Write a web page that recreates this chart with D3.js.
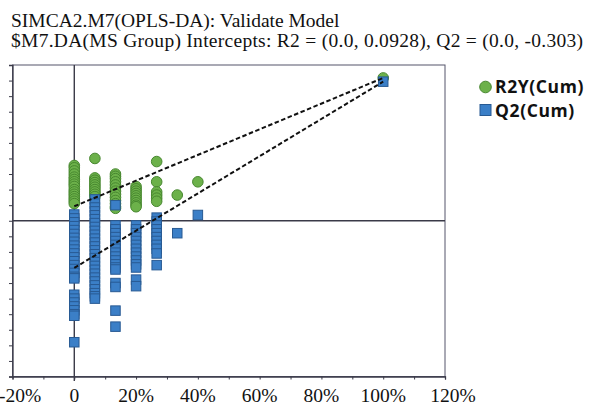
<!DOCTYPE html>
<html>
<head>
<meta charset="utf-8">
<script src="https://cdn.jsdelivr.net/npm/d3@7"></script>
<style>
  html, body { margin: 0; padding: 0; background: #fff; }
  svg { display: block; }
</style>
</head>
<body>
<svg id="chart" width="591" height="406"></svg>
<script>
// ---------- data ----------
const titleLines = [
  "SIMCA2.M7(OPLS-DA): Validate Model",
  "$M7.DA(MS Group) Intercepts: R2 = (0.0, 0.0928), Q2 = (0.0, -0.303)"
];
// correlation between permuted and original Y (x positions of columns)
const permCorr = [0, 0.0667, 0.1333, 0.2, 0.2667, 0.3333, 0.4, 1.0];
// R2Y(Cum) values per column
const r2Values = [
  [0.355, 0.34, 0.32, 0.30, 0.28, 0.265, 0.25, 0.235, 0.22, 0.20, 0.185, 0.17, 0.155, 0.14, 0.125, 0.11],
  [0.40, 0.275, 0.26, 0.245, 0.23, 0.215, 0.20, 0.185, 0.17, 0.155],
  [0.30, 0.285, 0.27, 0.25, 0.23, 0.21, 0.19, 0.17, 0.15, 0.13, 0.11, 0.09, 0.08],
  [0.22, 0.205, 0.19, 0.175, 0.16, 0.145, 0.13, 0.115, 0.10, 0.09],
  [0.38, 0.25, 0.185, 0.165, 0.145, 0.125],
  [0.165],
  [0.25],
  [0.917]
];
// Q2(Cum) values per column
const q2Values = [
  [0.04, 0.015, -0.01, -0.035, -0.06, -0.085, -0.11, -0.135, -0.16, -0.185, -0.21, -0.235, -0.26, -0.285, -0.31, -0.335, -0.36, -0.37,
   -0.475, -0.50, -0.525, -0.55, -0.575, -0.60, -0.61, -0.78],
  [0.137, 0.11, 0.085, 0.06, 0.035, 0.01, -0.015, -0.04, -0.065, -0.09, -0.115, -0.14, -0.165, -0.19, -0.215, -0.24, -0.265,
   -0.29, -0.315, -0.34, -0.365, -0.39, -0.415, -0.44, -0.465, -0.485, -0.50],
  [0.10, -0.03, -0.055, -0.08, -0.105, -0.13, -0.155, -0.18, -0.205, -0.23, -0.255, -0.28, -0.30, -0.313, -0.40, -0.425, -0.577, -0.68],
  [-0.03, -0.055, -0.08, -0.105, -0.13, -0.155, -0.18, -0.205, -0.23, -0.255, -0.28, -0.30, -0.378, -0.42],
  [0.02, -0.005, -0.03, -0.055, -0.08, -0.105, -0.13, -0.155, -0.18, -0.21, -0.285],
  [-0.08],
  [0.037],
  [0.893]
];
const r2Intercept = 0.0928;
const q2Intercept = -0.303;
const xTickValues = [-0.2, 0, 0.2, 0.4, 0.6, 0.8, 1.0, 1.2];
const xTickLabels = ["-20%", "0", "20%", "40%", "60%", "80%", "100%", "120%"];
const legendLabels = ["R2Y(Cum)", "Q2(Cum)"];

// ---------- layout ----------
const svg = d3.select("#chart");
const L = 12.5, R = 445, T = 65, B = 376.5;
const x = d3.scaleLinear().domain([-0.2, 1.2]).range([L, R]);
const y = d3.scaleLinear().domain([-1, 1]).range([B, T]);

const green = "#6cb14a", greenStroke = "#47872f";
const blue = "#3b7fc7", blueStroke = "#285a93";
const axisColor = "#3a3a48";
const serif = "'Liberation Serif', 'Times New Roman', serif";

// title
const tg = svg.append("g");
tg.append("text")
  .attr("x", 11).attr("y", 27)
  .attr("font-family", serif).attr("font-size", 19.5).attr("fill", "#111")
  .text(titleLines[0]);
tg.append("text")
  .attr("x", 11).attr("y", 47)
  .attr("font-family", serif).attr("font-size", 19.5).attr("fill", "#111")
  .attr("textLength", 572).attr("lengthAdjust", "spacing")
  .text(titleLines[1]);

// frame
svg.append("rect")
  .attr("x", L).attr("y", T).attr("width", R - L).attr("height", B - T)
  .attr("fill", "none").attr("stroke", "#55556a").attr("stroke-width", 1);

// y axis (ticks only, no labels)
const yAxis = d3.axisLeft(y).tickValues(d3.range(-10, 11).map(v => v / 10)).tickSize(3.5).tickFormat("");
const gy = svg.append("g").attr("transform", `translate(${L},0)`).call(yAxis);
gy.select(".domain").attr("stroke", axisColor).attr("stroke-width", 1.3);
gy.selectAll(".tick line").attr("stroke", axisColor).attr("stroke-width", 1);

// x axis
const xAxis = d3.axisBottom(x).tickValues(d3.range(-2, 13).map(v => v / 10)).tickSize(3).tickFormat("");
const gx = svg.append("g").attr("transform", `translate(0,${B})`).call(xAxis);
gx.select(".domain").attr("stroke", axisColor).attr("stroke-width", 1.3);
gx.selectAll(".tick line").attr("stroke", axisColor).attr("stroke-width", 1);

// x tick labels
svg.append("g").selectAll("text").data(xTickValues).join("text")
  .attr("x", (d, i) => i === 0 ? -1 : x(d) + (i === xTickValues.length - 1 ? 8 : 0))
  .attr("y", 402)
  .attr("text-anchor", (d, i) => i === 0 ? "start" : "middle")
  .attr("font-family", serif)
  .attr("font-size", 19.5)
  .attr("fill", "#111")
  .text((d, i) => xTickLabels[i]);

// zero lines
svg.append("line")
  .attr("x1", L).attr("x2", R).attr("y1", y(0)).attr("y2", y(0))
  .attr("stroke", axisColor).attr("stroke-width", 1.4);
svg.append("line")
  .attr("x1", x(0)).attr("x2", x(0)).attr("y1", T).attr("y2", B + 4.5)
  .attr("stroke", axisColor).attr("stroke-width", 1.4);

// points
const r2Points = permCorr.flatMap((c, i) => r2Values[i].map(v => ({ c, v })));
const q2Points = permCorr.flatMap((c, i) => q2Values[i].map(v => ({ c, v })));

svg.append("g").selectAll("circle").data(r2Points).join("circle")
  .attr("cx", d => x(d.c)).attr("cy", d => y(d.v)).attr("r", 5.3)
  .attr("fill", green).attr("stroke", greenStroke).attr("stroke-width", 1);

const sq = 9.5;
svg.append("g").selectAll("rect").data(q2Points).join("rect")
  .attr("x", d => x(d.c) - sq / 2).attr("y", d => y(d.v) - sq / 2)
  .attr("width", sq).attr("height", sq)
  .attr("fill", blue).attr("stroke", blueStroke).attr("stroke-width", 1);

// regression lines
const lastCorr = permCorr[permCorr.length - 1];
const r2Orig = r2Values[r2Values.length - 1][0];
const q2Orig = q2Values[q2Values.length - 1][0];
const lineGen = d3.line().x(d => x(d[0])).y(d => y(d[1]));
[[[0, r2Intercept], [lastCorr, r2Orig]], [[0, q2Intercept], [lastCorr, q2Orig]]].forEach(seg => {
  svg.append("path").attr("d", lineGen(seg))
    .attr("fill", "none").attr("stroke", "#111").attr("stroke-width", 2)
    .attr("stroke-dasharray", "4.5,2.5");
});

// legend
const lg = svg.append("g");
lg.append("circle").attr("cx", 485.5).attr("cy", 87).attr("r", 5.8)
  .attr("fill", green).attr("stroke", greenStroke).attr("stroke-width", 1);
lg.append("rect").attr("x", 480).attr("y", 104.5).attr("width", 11).attr("height", 11)
  .attr("fill", blue).attr("stroke", blueStroke).attr("stroke-width", 1);
lg.selectAll("text").data(legendLabels).join("text")
  .attr("x", 495).attr("y", (d, i) => 93 + i * 23.5)
  .attr("font-family", "'Open Sans', 'Noto Sans', sans-serif")
  .attr("font-weight", "bold")
  .attr("font-size", 17.5)
  .attr("letter-spacing", 0.6)
  .attr("fill", "#111")
  .text(d => d);
</script>
</body>
</html>
